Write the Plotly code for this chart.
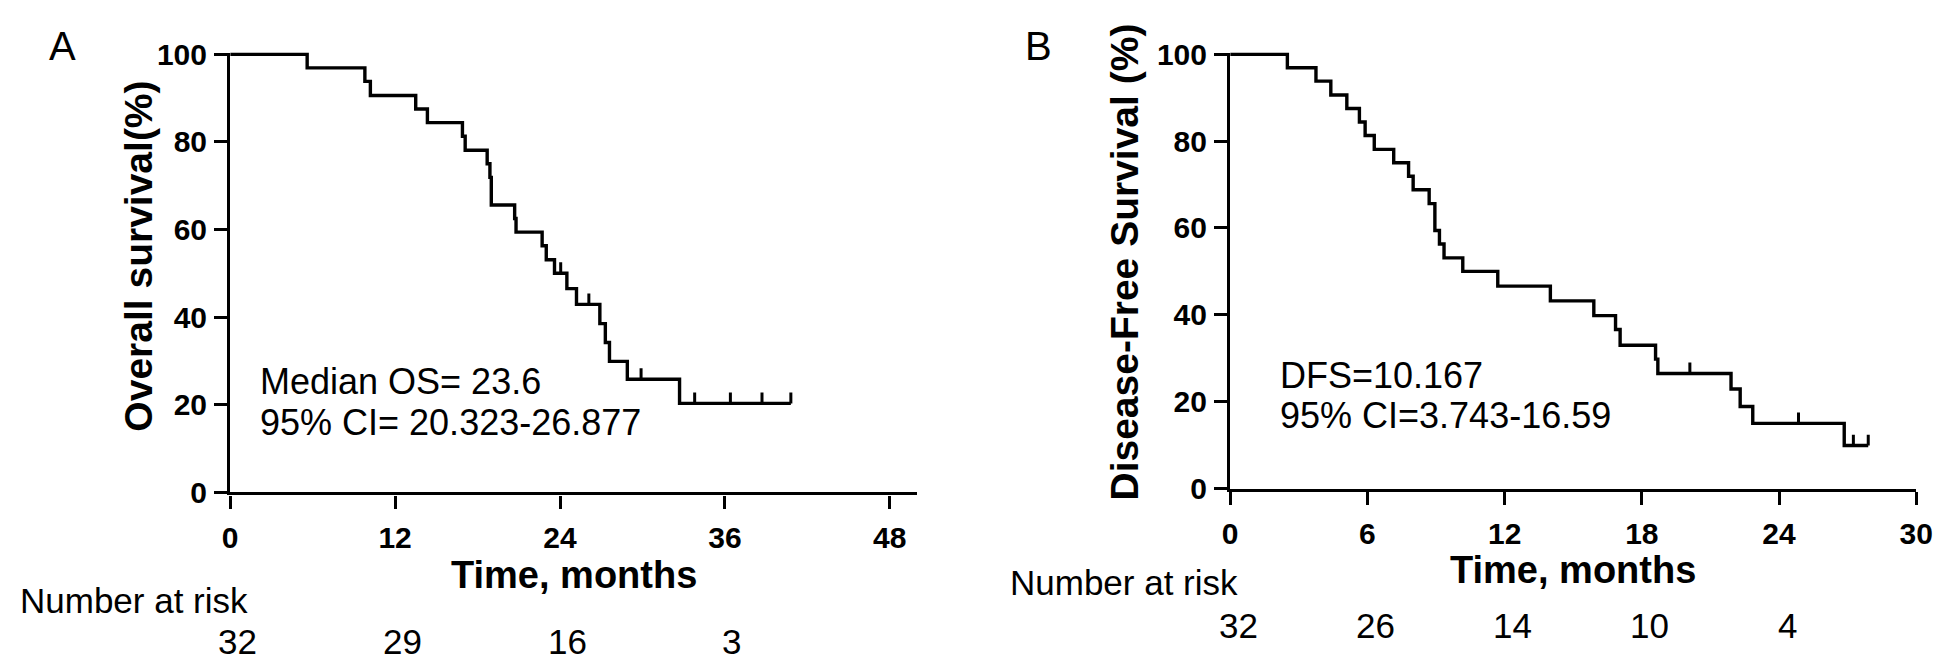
import plotly.graph_objects as go

W, H = 1946, 666
FONT = "Liberation Sans, Arial, sans-serif"

# ---- Overall survival (panel A) ----
os_time = [0, 5.6, 9.8, 10.2, 13.5, 14.35, 16.9, 17.1, 18.7, 18.9, 19.0, 20.7, 20.8,
           22.7, 23.0, 23.6, 24.5, 25.2, 26.9, 27.3, 27.6, 28.9, 32.7, 40.8]
os_surv = [100, 96.9, 93.8, 90.6, 87.5, 84.4, 81.3, 78.1, 75.0, 71.9, 65.6, 62.5, 59.4,
           56.3, 53.1, 50.0, 46.5, 42.9, 38.5, 34.2, 29.9, 25.8, 20.3, 20.3]
os_cens_time = [24.05, 26.1, 29.9, 33.8, 36.4, 38.7, 40.8]
os_cens_surv = [50.0, 42.9, 25.8, 20.3, 20.3, 20.3, 20.3]

# ---- Disease-free survival (panel B) ----
dfs_time = [0, 2.5, 3.75, 4.4, 5.1, 5.65, 5.9, 6.3, 7.15, 7.8, 8.0, 8.7, 8.95, 9.15, 9.35,
            10.17, 11.7, 14.0, 15.9, 16.85, 17.05, 18.6, 18.7, 21.9, 22.3, 22.85, 26.85, 27.9]
dfs_surv = [100, 96.9, 93.8, 90.6, 87.5, 84.4, 81.3, 78.1, 75.0, 71.9, 68.8, 65.6, 59.4, 56.3, 53.1,
            50.0, 46.6, 43.2, 39.8, 36.6, 33.0, 29.8, 26.5, 22.9, 18.9, 15.0, 9.9, 9.9]
dfs_cens_time = [20.1, 24.85, 27.25, 27.9]
dfs_cens_surv = [26.5, 15.0, 9.9, 9.9]

os_xticks = [0, 12, 24, 36, 48]
dfs_xticks = [0, 6, 12, 18, 24, 30]
yticks = [0, 20, 40, 60, 80, 100]

os_risk_time = [0, 12, 24, 36]
os_risk_n = [32, 29, 16, 3]
dfs_risk_time = [0, 6, 12, 18, 24]
dfs_risk_n = [32, 26, 14, 10, 4]

os_text = ["Median OS= 23.6", "95% CI= 20.323-26.877"]
dfs_text = ["DFS=10.167", "95% CI=3.743-16.59"]

fig = go.Figure()

line_style = dict(shape="hv", color="black", width=3.4)
TICK_UP = 2.5

fig.add_trace(go.Scatter(x=os_time, y=os_surv, mode="lines", line=line_style,
                         xaxis="x", yaxis="y", showlegend=False, hoverinfo="skip"))
fig.add_trace(go.Scatter(x=os_cens_time, y=os_cens_surv, mode="markers",
                         marker=dict(size=1, color="rgba(0,0,0,0)"),
                         error_y=dict(type="data", symmetric=False,
                                      array=[TICK_UP] * len(os_cens_time),
                                      arrayminus=[0] * len(os_cens_time),
                                      width=0, thickness=3, color="black"),
                         xaxis="x", yaxis="y", showlegend=False, hoverinfo="skip"))

fig.add_trace(go.Scatter(x=dfs_time, y=dfs_surv, mode="lines", line=line_style,
                         xaxis="x2", yaxis="y2", showlegend=False, hoverinfo="skip"))
fig.add_trace(go.Scatter(x=dfs_cens_time, y=dfs_cens_surv, mode="markers",
                         marker=dict(size=1, color="rgba(0,0,0,0)"),
                         error_y=dict(type="data", symmetric=False,
                                      array=[TICK_UP] * len(dfs_cens_time),
                                      arrayminus=[0] * len(dfs_cens_time),
                                      width=0, thickness=3, color="black"),
                         xaxis="x2", yaxis="y2", showlegend=False, hoverinfo="skip"))

axis_common = dict(showline=True, linewidth=3.4, linecolor="black", ticks="outside",
                   ticklen=13, tickwidth=3.4, tickcolor="black", showgrid=False,
                   zeroline=False, tickfont=dict(family=FONT, size=30, color="black", weight="bold"))

fig.update_layout(
    width=W, height=H,
    margin=dict(l=0, r=0, t=0, b=0),
    paper_bgcolor="white", plot_bgcolor="white",
    xaxis=dict(domain=[217 / W, 913 / W], range=[0, 50], anchor="y",
               tickvals=os_xticks, ticklabelstandoff=3, **axis_common),
    yaxis=dict(domain=[1 - 493 / H, 1 - 31 / H], range=[0, 100.4], anchor="x",
               tickvals=yticks, ticklabelstandoff=1, **axis_common),
    xaxis2=dict(domain=[1230 / W, 1925 / W], range=[0, 30], anchor="y2",
                tickvals=dfs_xticks, ticklabelstandoff=3, **axis_common),
    yaxis2=dict(domain=[1 - 489 / H, 1 - 31 / H], range=[0, 100.4], anchor="x2",
                tickvals=yticks, ticklabelstandoff=1, **axis_common),
)

ann = []
title_font = dict(family=FONT, size=38, color="black", weight="bold")
ytitle_font = dict(family=FONT, size=39, color="black", weight="bold")
reg = lambda s: dict(family=FONT, size=s, color="black")

# panel letters
ann.append(dict(text="A", x=47 / W, y=1 - 24 / H, xref="paper", yref="paper",
                xanchor="center", yanchor="middle", showarrow=False, font=reg(40)))
ann.append(dict(text="B", x=1036 / W, y=1 - 24 / H, xref="paper", yref="paper",
                xanchor="center", yanchor="middle", showarrow=False, font=reg(40)))

# x titles
for xr, yr in (("x domain", "y domain"), ("x2 domain", "y2 domain")):
    ann.append(dict(text="Time, months", x=0.5, y=-0.188, xref=xr, yref=yr,
                    xanchor="center", yanchor="middle", showarrow=False, font=title_font))

# y titles
ann.append(dict(text="Overall survival(%)", x=124 / W, y=1 - 245 / H, xref="paper", yref="paper",
                xanchor="center", yanchor="middle", textangle=-90, showarrow=False, font=ytitle_font))
ann.append(dict(text="Disease-Free Survival (%)", x=1123 / W, y=1 - 251 / H, xref="paper", yref="paper",
                xanchor="center", yanchor="middle", textangle=-90, showarrow=False, font=ytitle_font))

# in-plot statistics
for txt, yy in zip(os_text, [377, 420]):
    ann.append(dict(text=txt, x=245 / W, y=1 - yy / H, xref="paper", yref="paper",
                    xanchor="left", yanchor="middle", showarrow=False, font=reg(36)))
for txt, yy in zip(dfs_text, [370, 412]):
    ann.append(dict(text=txt, x=1278 / W, y=1 - yy / H, xref="paper", yref="paper",
                    xanchor="left", yanchor="middle", showarrow=False, font=reg(36)))

# number at risk
ann.append(dict(text="Number at risk", x=2 / W, y=1 - 607 / H, xref="paper", yref="paper",
                xanchor="left", yanchor="middle", showarrow=False, font=reg(35)))
ann.append(dict(text="Number at risk", x=1005 / W, y=1 - 588 / H, xref="paper", yref="paper",
                xanchor="left", yanchor="middle", showarrow=False, font=reg(35)))
for t, n in zip(os_risk_time, os_risk_n):
    ann.append(dict(text=str(n), x=t, y=1 - 650 / H, xref="x", yref="paper", xshift=7,
                    xanchor="center", yanchor="middle", showarrow=False, font=reg(35)))
for t, n in zip(dfs_risk_time, dfs_risk_n):
    ann.append(dict(text=str(n), x=t, y=1 - 633 / H, xref="x2", yref="paper", xshift=8,
                    xanchor="center", yanchor="middle", showarrow=False, font=reg(35)))

fig.update_layout(annotations=ann)
fig.write_html("out.html")
